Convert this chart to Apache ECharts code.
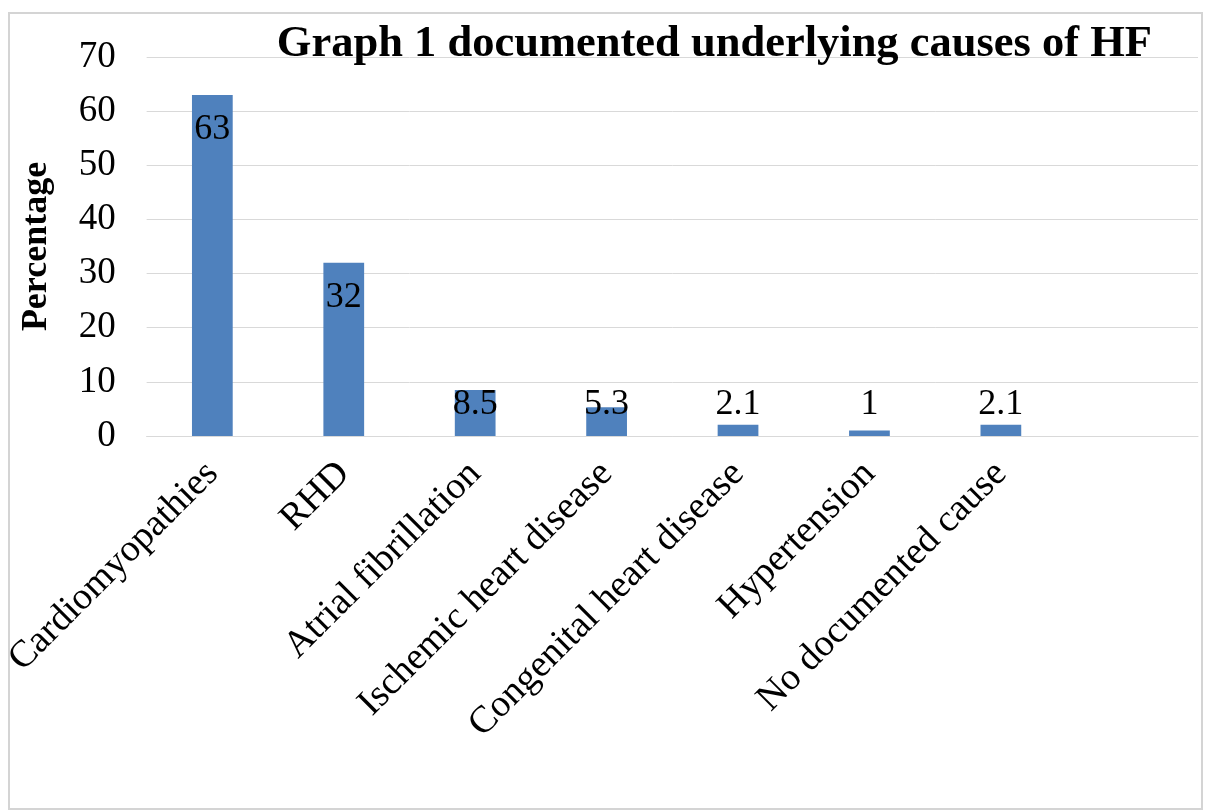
<!DOCTYPE html>
<html>
<head>
<meta charset="utf-8">
<title>Graph 1 documented underlying causes of HF</title>
<script src="https://cdn.jsdelivr.net/npm/echarts@6/dist/echarts.min.js"></script>
<style>
  html, body { margin: 0; padding: 0; background: #fff; }
  #chart { width: 1206px; height: 812px; }
</style>
</head>
<body>
<div id="chart"></div>
<script>
// data
const causes = ['Cardiomyopathies', 'RHD', 'Atrial fibrillation', 'Ischemic heart disease',
  'Congenital heart disease', 'Hypertension', 'No documented cause', ''];
const percentages = [63, 32, 8.5, 5.3, 2.1, 1, 2.1, null];
const yTicks = [0, 10, 20, 30, 40, 50, 60, 70];

const serif = '"Liberation Serif", "Times New Roman", serif';
const barColor = '#4f81bd';

const chart = echarts.init(document.getElementById('chart'));

// tall bars get the label inside the top, short ones sit just above the baseline
const barData = percentages.map(v => {
  if (v == null) return v;
  const tall = v >= 10;
  return {
    value: v,
    label: tall
      ? { position: 'insideTop', distance: 17 }
      : { position: 'insideBottom', distance: 13 }
  };
});

chart.setOption({
  animation: false,
  backgroundColor: '#fff',
  title: {
    text: 'Graph 1 documented underlying causes of HF',
    right: 49,
    top: 17,
    textStyle: { fontFamily: serif, fontWeight: 'bold', fontSize: 44.5, color: '#000' }
  },
  graphic: [{
    type: 'rect',
    shape: { x: 9, y: 13, width: 1193, height: 796 },
    style: { fill: 'none', stroke: '#d4d4d4', lineWidth: 2 },
    silent: true,
    z: -1
  }],
  grid: { left: 143, right: 8, top: 57, bottom: 376, containLabel: false },
  xAxis: {
    type: 'category',
    data: causes,
    axisLine: { lineStyle: { color: '#d9d9d9', width: 1 } },
    axisTick: { show: false },
    axisLabel: {
      rotate: 45,
      interval: 0,
      margin: 32,
      fontFamily: serif,
      fontSize: 38,
      color: '#000'
    }
  },
  yAxis: {
    type: 'value',
    min: yTicks[0],
    max: yTicks[yTicks.length - 1],
    interval: 10,
    name: 'Percentage',
    nameLocation: 'middle',
    nameGap: 92,
    nameTextStyle: { fontFamily: serif, fontWeight: 'bold', fontSize: 36, color: '#000' },
    axisLine: { show: false },
    axisTick: { show: false },
    axisLabel: { margin: 31, fontFamily: serif, fontSize: 37, color: '#000' },
    splitLine: { lineStyle: { color: '#d9d9d9', width: 1 } }
  },
  series: [{
    type: 'bar',
    data: barData,
    barWidth: '31%',
    itemStyle: { color: barColor },
    label: {
      show: true,
      fontFamily: serif,
      fontSize: 36,
      color: '#000'
    }
  }]
});
</script>
</body>
</html>
